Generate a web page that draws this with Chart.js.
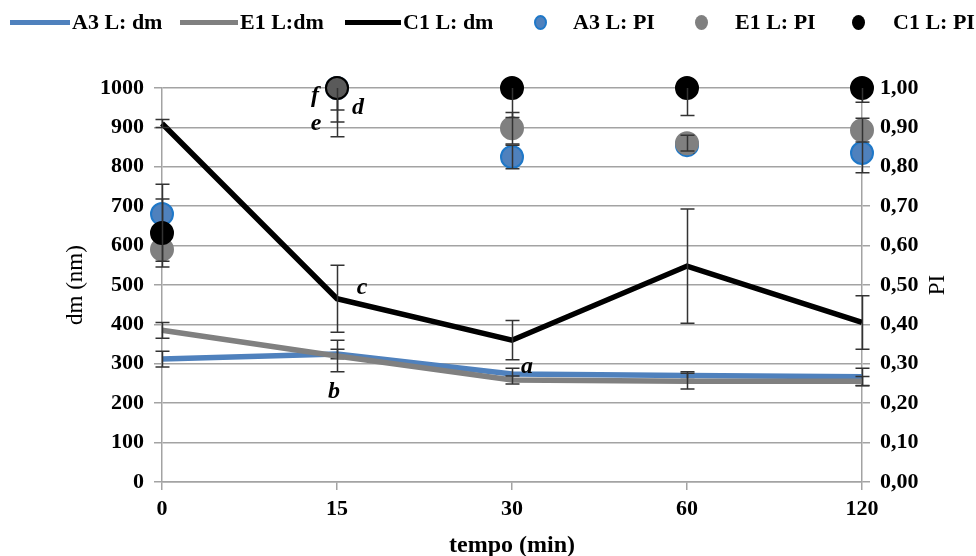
<!DOCTYPE html>
<html>
<head>
<meta charset="utf-8">
<script src="https://cdn.jsdelivr.net/npm/chart.js@4.4.1/dist/chart.umd.min.js"></script>
<style>
  html, body { margin: 0; padding: 0; background: #fff; }
  #wrap { position: relative; width: 976px; height: 556px; }
  #chart { position: absolute; left: 0; top: 0; }
  .item { position: absolute; top: 10px; height: 24px; display: flex; align-items: center;
          font: bold 22px "Liberation Serif", "Times New Roman", serif; color: #000; white-space: nowrap; }
  .ln { display: inline-block; height: 5px; margin-right: 2px; }
  .dot { display: inline-block; width: 13px; height: 15px; border-radius: 50%; box-sizing: border-box; }
</style>
</head>
<body>
<div id="wrap">
  <canvas id="chart" width="976" height="556"></canvas>
  <div class="item" style="left:10px"><span class="ln" style="width:60px;background:#4F81BD"></span>A3 L: dm</div>
  <div class="item" style="left:180px"><span class="ln" style="width:58px;background:#808080"></span>E1 L:dm</div>
  <div class="item" style="left:345px"><span class="ln" style="width:56px;background:#000"></span>C1 L: dm</div>
  <div class="item" style="left:534px"><span class="dot" style="background:#4F81BD;border:2px solid #1F78C8"></span></div>
  <div class="item" style="left:573px">A3 L: PI</div>
  <div class="item" style="left:695px"><span class="dot" style="background:#808080"></span></div>
  <div class="item" style="left:735px">E1 L: PI</div>
  <div class="item" style="left:852px"><span class="dot" style="background:#000"></span></div>
  <div class="item" style="left:893px">C1 L: PI</div>
</div>
<script>
// Sampling times (min)
const tempo = ['0', '15', '30', '60', '120'];

// Mean droplet diameter dm (nm) and its error
const a3Dm = [312, 325, 274, 270, 267];
const e1Dm = [385, 320, 259, 256, 256];
const c1Dm = [910, 465, 360, 548, 405];
const a3DmErr = [20, 12, 15, 10, 22];
const e1DmErr = [20, 40, 10, 20, 12];
const c1DmErr = [10, 85, 50, 145, 68];

// Polydispersity index PI and its error
const a3Pi = [0.68, 1.00, 0.825, 0.855, 0.835];
const e1Pi = [0.59, 1.00, 0.898, 0.86, 0.893];
const c1Pi = [0.632, 1.00, 1.00, 1.00, 1.00];
const a3PiErr = [0.076, 0.124, 0.03, 0.02, 0.05];
const e1PiErr = [0.03, 0.086, 0.04, 0.02, 0.03];
const c1PiErr = [0.086, 0.056, 0.075, 0.07, 0.036];

// Axis tick labels
const dmTicks = ['0', '100', '200', '300', '400', '500', '600', '700', '800', '900', '1000'];
const piTicks = ['0,00', '0,10', '0,20', '0,30', '0,40', '0,50', '0,60', '0,70', '0,80', '0,90', '1,00'];

// Significance letters: text, category index, axis, value, horizontal offset
const letters = [
  ['a', 2, 'y', 292, 15],
  ['b', 1, 'y', 228, -3],
  ['c', 1, 'y', 493, 25],
  ['d', 1, 'y1', 0.951, 21],
  ['e', 1, 'y1', 0.909, -21],
  ['f', 1, 'y1', 0.98, -22]
];

const errorsByLabel = {
  'A3 L: dm': a3DmErr, 'E1 L:dm': e1DmErr, 'C1 L: dm': c1DmErr,
  'A3 L: PI': a3PiErr, 'E1 L: PI': e1PiErr, 'C1 L: PI': c1PiErr
};

const GRID = '#a3a3a3';
const tickFont = { family: '"Liberation Serif", "Times New Roman", serif', size: 22, weight: 'bold' };

// Vertical error bars, drawn right after their own dataset and kept inside the plot area
const errorBars = {
  id: 'errorBars',
  afterDatasetDraw(chart, args) {
    const ds = chart.data.datasets[args.index];
    const errs = errorsByLabel[ds.label];
    if (!errs) return;
    const ys = chart.scales[ds.yAxisID];
    const area = chart.chartArea;
    const ctx = chart.ctx;
    ctx.save();
    ctx.beginPath();
    ctx.rect(area.left - 10, area.top, area.right - area.left + 20, area.bottom - area.top);
    ctx.clip();
    ctx.strokeStyle = '#333333';
    ctx.lineWidth = 1.5;
    args.meta.data.forEach((pt, i) => {
      const v = ds.data[i], e = errs[i];
      const x = Math.round(pt.x) + 0.5;
      const yTop = ys.getPixelForValue(v + e);
      const yBot = ys.getPixelForValue(v - e);
      ctx.beginPath();
      ctx.moveTo(x, yTop); ctx.lineTo(x, yBot);
      ctx.moveTo(x - 7, yTop); ctx.lineTo(x + 7, yTop);
      ctx.moveTo(x - 7, yBot); ctx.lineTo(x + 7, yBot);
      ctx.stroke();
    });
    ctx.restore();
  }
};

// Letters and the right-hand axis title
const extras = {
  id: 'extras',
  afterDraw(chart) {
    const ctx = chart.ctx;
    const xs = chart.scales.x;
    ctx.save();
    ctx.fillStyle = '#000';
    ctx.textAlign = 'center';
    ctx.textBaseline = 'middle';
    ctx.font = 'italic bold 24px "Liberation Serif", "Times New Roman", serif';
    letters.forEach(([t, ci, axis, v, dx]) => {
      ctx.fillText(t, xs.getPixelForValue(ci) + dx, chart.scales[axis].getPixelForValue(v));
    });
    const area = chart.chartArea;
    ctx.translate(938, (area.top + area.bottom) / 2);
    ctx.rotate(-Math.PI / 2);
    ctx.font = '23px "Liberation Serif", "Times New Roman", serif';
    ctx.fillText('PI', 0, 0);
    ctx.restore();
  }
};

const lineDs = (label, data, color, order) => ({
  type: 'line', label, data, yAxisID: 'y', order,
  borderColor: color, backgroundColor: color, borderWidth: 5.5,
  pointRadius: 0, tension: 0, fill: false
});
const dotDs = (label, data, fill, border, order) => ({
  type: 'line', label, data, yAxisID: 'y1', order, showLine: false, clip: false,
  pointRadius: 11, pointHoverRadius: 11, pointBorderWidth: 2,
  pointBackgroundColor: fill, pointBorderColor: border
});

new Chart(document.getElementById('chart'), {
  data: {
    labels: tempo,
    datasets: [
      lineDs('A3 L: dm', a3Dm, '#4F81BD', 5),
      lineDs('E1 L:dm', e1Dm, '#808080', 4),
      lineDs('C1 L: dm', c1Dm, '#000000', 3),
      dotDs('A3 L: PI', a3Pi, '#4F81BD', '#1F78C8', 2),
      dotDs('E1 L: PI', e1Pi, '#808080', '#808080', 1),
      dotDs('C1 L: PI', c1Pi, ctx => (ctx.dataIndex === 1 ? '#5a5a5a' : '#000000'), '#000000', 0)
    ]
  },
  options: {
    responsive: false,
    animation: false,
    layout: { padding: { top: 88, left: 0, right: 0, bottom: 0 } },
    plugins: { legend: { display: false }, tooltip: { enabled: false } },
    scales: {
      x: {
        type: 'category', offset: false,
        afterFit(s) { s.height = 74; },
        grid: { drawOnChartArea: false, drawTicks: true, tickLength: 8, color: GRID, lineWidth: 1.5 },
        border: { color: GRID, width: 1.5 },
        ticks: { color: '#000', font: tickFont, padding: 6, maxRotation: 0 },
        title: { display: true, text: 'tempo (min)', color: '#000', padding: { top: 0, bottom: -2 },
                 font: { family: tickFont.family, size: 24, weight: 'bold', lineHeight: 1 } }
      },
      y: {
        position: 'left', min: 0, max: 1000,
        afterFit(s) { s.width = 162; },
        afterBuildTicks(s) { s.ticks = dmTicks.map(t => ({ value: Number(t) })); },
        grid: { drawOnChartArea: true, drawTicks: true, tickLength: 8, color: GRID, lineWidth: 1.5 },
        border: { color: GRID, width: 1.5 },
        ticks: { color: '#000', font: tickFont, padding: 10, callback: (v, i) => dmTicks[i] },
        title: { display: true, text: 'dm (nm)', color: '#000', padding: { top: 62, bottom: 0 },
                 font: { family: tickFont.family, size: 23, weight: 'normal' } }
      },
      y1: {
        position: 'right', min: 0, max: 1,
        afterFit(s) { s.width = 114; },
        afterBuildTicks(s) { s.ticks = piTicks.map(t => ({ value: Number(t.replace(',', '.')) })); },
        grid: { drawOnChartArea: false, drawTicks: true, tickLength: 8, color: GRID, lineWidth: 1.5 },
        border: { color: GRID, width: 1.5 },
        ticks: { color: '#000', font: tickFont, padding: 10, callback: (v, i) => piTicks[i] }
      }
    }
  },
  plugins: [errorBars, extras]
});
</script>
</body>
</html>
